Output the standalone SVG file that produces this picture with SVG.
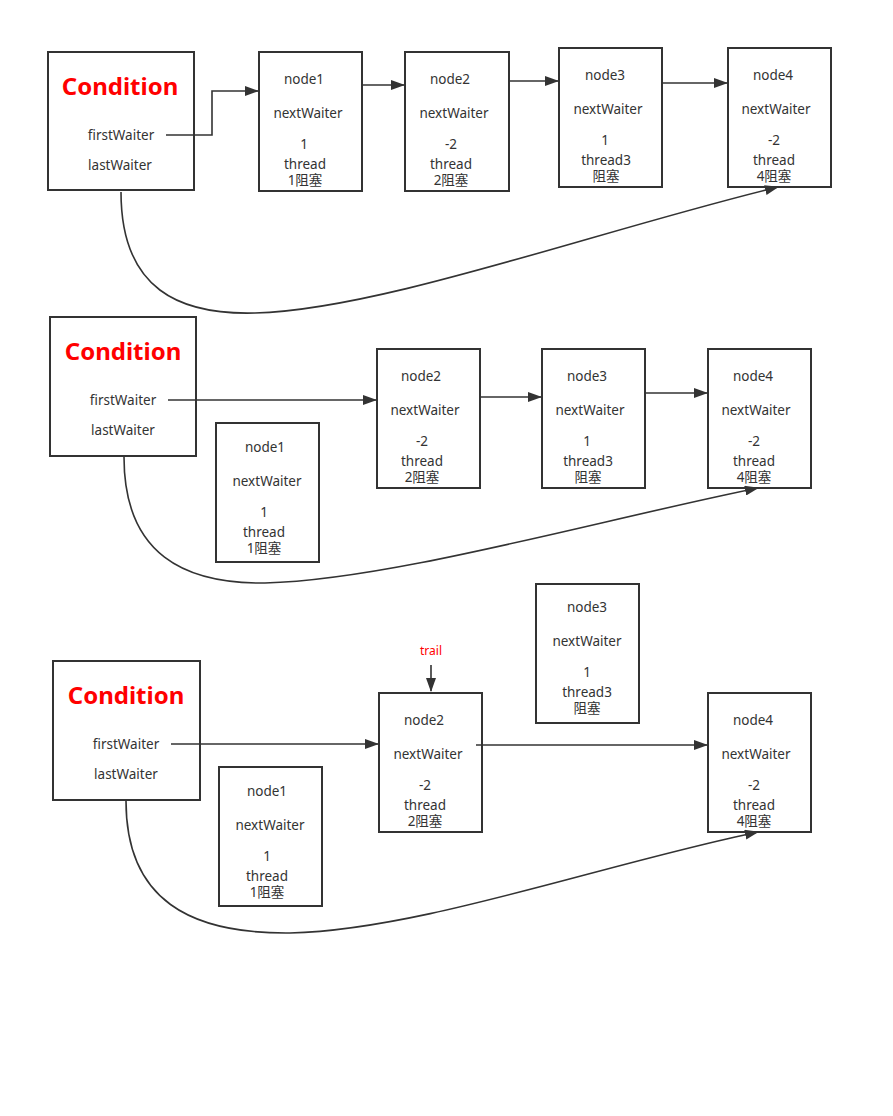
<svg xmlns="http://www.w3.org/2000/svg" width="893" height="1116" viewBox="0 0 893 1116">
<defs>
<marker id="ah" markerWidth="14" markerHeight="10" refX="13" refY="5" orient="auto" markerUnits="userSpaceOnUse">
<path d="M0,0 L14,5 L0,10 Z" fill="#333"/>
</marker>
<style>
.box{fill:#fff;stroke:#333;stroke-width:2}
.t{font-family:"Noto Sans","Noto Sans CJK SC",sans-serif;font-size:13.5px;fill:#333;text-anchor:middle}
.c{font-family:"Noto Sans","Noto Sans CJK SC",sans-serif;font-size:24px;font-weight:bold;fill:#ff0000;text-anchor:middle}
.r{font-family:"Noto Sans","Noto Sans CJK SC",sans-serif;font-size:12px;fill:#ff0000;text-anchor:middle}
.ln{fill:none;stroke:#333;stroke-width:1.6}
</style>
</defs>
<rect width="893" height="1116" fill="#fff"/>

<!-- Row 1 -->
<g id="cond1">
<rect class="box" x="48" y="52" width="146" height="138"/>
<text class="c" x="120" y="95">Condition</text>
<text class="t" x="121" y="140">firstWaiter</text>
<text class="t" x="120" y="170">lastWaiter</text>
</g>
<g id="r1n1">
<rect class="box" x="259" y="52" width="103" height="139"/>
<text class="t" x="304" y="84">node1</text>
<text class="t" x="308" y="118">nextWaiter</text>
<text class="t" x="304" y="149">1</text>
<text class="t" x="305" y="169">thread</text>
<text class="t" x="305" y="185">1阻塞</text>
</g>
<g id="r1n2">
<rect class="box" x="405" y="52" width="104" height="139"/>
<text class="t" x="450" y="84">node2</text>
<text class="t" x="454" y="118">nextWaiter</text>
<text class="t" x="451" y="149">-2</text>
<text class="t" x="451" y="169">thread</text>
<text class="t" x="451" y="185">2阻塞</text>
</g>
<g id="r1n3">
<rect class="box" x="559" y="48" width="103" height="139"/>
<text class="t" x="605" y="80">node3</text>
<text class="t" x="608" y="114">nextWaiter</text>
<text class="t" x="605" y="145">1</text>
<text class="t" x="606" y="165">thread3</text>
<text class="t" x="606" y="181">阻塞</text>
</g>
<g id="r1n4">
<rect class="box" x="728" y="48" width="103" height="139"/>
<text class="t" x="773" y="80">node4</text>
<text class="t" x="776" y="114">nextWaiter</text>
<text class="t" x="774" y="145">-2</text>
<text class="t" x="774" y="165">thread</text>
<text class="t" x="774" y="181">4阻塞</text>
</g>

<!-- Row 2 -->
<g id="cond2">
<rect class="box" x="50" y="317" width="146" height="139"/>
<text class="c" x="123" y="360">Condition</text>
<text class="t" x="123" y="405">firstWaiter</text>
<text class="t" x="123" y="435">lastWaiter</text>
</g>
<g id="r2n1">
<rect class="box" x="216" y="423" width="103" height="139"/>
<text class="t" x="265" y="452">node1</text>
<text class="t" x="267" y="486">nextWaiter</text>
<text class="t" x="264" y="517">1</text>
<text class="t" x="264" y="537">thread</text>
<text class="t" x="264" y="553">1阻塞</text>
</g>
<g id="r2n2">
<rect class="box" x="377" y="349" width="103" height="139"/>
<text class="t" x="421" y="381">node2</text>
<text class="t" x="425" y="415">nextWaiter</text>
<text class="t" x="422" y="446">-2</text>
<text class="t" x="422" y="466">thread</text>
<text class="t" x="422" y="482">2阻塞</text>
</g>
<g id="r2n3">
<rect class="box" x="542" y="349" width="103" height="139"/>
<text class="t" x="587" y="381">node3</text>
<text class="t" x="590" y="415">nextWaiter</text>
<text class="t" x="587" y="446">1</text>
<text class="t" x="588" y="466">thread3</text>
<text class="t" x="588" y="482">阻塞</text>
</g>
<g id="r2n4">
<rect class="box" x="708" y="349" width="103" height="139"/>
<text class="t" x="753" y="381">node4</text>
<text class="t" x="756" y="415">nextWaiter</text>
<text class="t" x="754" y="446">-2</text>
<text class="t" x="754" y="466">thread</text>
<text class="t" x="754" y="482">4阻塞</text>
</g>

<!-- Row 3 -->
<g id="cond3">
<rect class="box" x="53" y="661" width="147" height="139"/>
<text class="c" x="126" y="704">Condition</text>
<text class="t" x="126" y="749">firstWaiter</text>
<text class="t" x="126" y="779">lastWaiter</text>
</g>
<g id="r3n1">
<rect class="box" x="219" y="767" width="103" height="139"/>
<text class="t" x="267" y="796">node1</text>
<text class="t" x="270" y="830">nextWaiter</text>
<text class="t" x="267" y="861">1</text>
<text class="t" x="267" y="881">thread</text>
<text class="t" x="267" y="897">1阻塞</text>
</g>
<g id="r3n2">
<rect class="box" x="379" y="693" width="103" height="139"/>
<text class="t" x="424" y="725">node2</text>
<text class="t" x="428" y="759">nextWaiter</text>
<text class="t" x="425" y="790">-2</text>
<text class="t" x="425" y="810">thread</text>
<text class="t" x="425" y="826">2阻塞</text>
</g>
<g id="trail">
<text class="r" x="431" y="655">trail</text>
</g>
<g id="r3n3">
<rect class="box" x="536" y="584" width="103" height="139"/>
<text class="t" x="587" y="612">node3</text>
<text class="t" x="587" y="646">nextWaiter</text>
<text class="t" x="587" y="677">1</text>
<text class="t" x="587" y="697">thread3</text>
<text class="t" x="587" y="713">阻塞</text>
</g>
<g id="r3n4">
<rect class="box" x="708" y="693" width="103" height="139"/>
<text class="t" x="753" y="725">node4</text>
<text class="t" x="756" y="759">nextWaiter</text>
<text class="t" x="754" y="790">-2</text>
<text class="t" x="754" y="810">thread</text>
<text class="t" x="754" y="826">4阻塞</text>
</g>

<g id="connectors">
<path class="ln" d="M166,135 H212 V91 H258" marker-end="url(#ah)"/>
<path class="ln" d="M362,85 H404" marker-end="url(#ah)"/>
<path class="ln" d="M509,81 H558" marker-end="url(#ah)"/>
<path class="ln" d="M662,83 H727" marker-end="url(#ah)"/>
<path class="ln" d="M121,192 C121,290 180,315 255,313 C380,310 600,230 778,187" marker-end="url(#ah)"/>

<path class="ln" d="M168,400 H376" marker-end="url(#ah)"/>
<path class="ln" d="M480,397 H541" marker-end="url(#ah)"/>
<path class="ln" d="M645,393 H707" marker-end="url(#ah)"/>
<path class="ln" d="M124,457 C124,555 185,584 265,583 C390,580 600,520 758,488" marker-end="url(#ah)"/>

<path class="ln" d="M171,744 H378" marker-end="url(#ah)"/>
<path class="ln" d="M476,745 H707" marker-end="url(#ah)"/>
<path class="ln" d="M431,665 V691" marker-end="url(#ah)"/>
<path class="ln" d="M126,801 C126,900 190,934 290,933 C420,930 600,865 758,832" marker-end="url(#ah)"/>
</g>
</svg>
